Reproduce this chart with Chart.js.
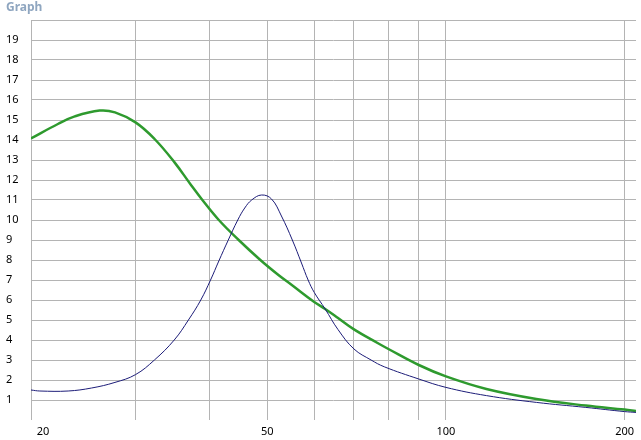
<!DOCTYPE html>
<html>
<head>
<meta charset="utf-8">
<script src="https://cdn.jsdelivr.net/npm/chart.js@4"></script>
<style>
  html, body { margin: 0; padding: 0; background: #ffffff; }
  #wrap { width: 641px; height: 440px; position: relative; }
</style>
</head>
<body>
<div id="wrap"><canvas id="graph"></canvas></div>
<script>
// x ticks (gridlines) and which of them get a label
const xTicks = [20, 30, 40, 50, 60, 70, 80, 90, 100, 200];
const xLabelled = [20, 50, 100, 200];
const xMin = 20;
const xMax = 209;

// green curve
const greenFreq = [20, 22.2, 23.7, 26.1, 27.7, 30, 32.3, 34.9, 37.2, 38.88, 41.44, 44.76, 48.68, 52.22, 55, 60, 62.6, 65.8, 70, 76.7, 80, 90, 100, 117, 142, 172, 200, 209];
const greenVal  = [14.08, 14.8, 15.18, 15.47, 15.38, 14.88, 14.05, 12.88, 11.75, 11.0, 10.0, 9.0, 8.0, 7.25, 6.75, 5.9, 5.55, 5.1, 4.53, 3.85, 3.55, 2.75, 2.18, 1.55, 1.05, 0.72, 0.52, 0.45];

// blue curve
const blueFreq = [20, 20.7, 23.1, 25.3, 27.7, 30, 32.28, 34.86, 36.83, 38.64, 40.13, 41.44, 42.96, 44.6, 45.82, 47.07, 48.91, 50.84, 52.83, 55.11, 57.1, 58.59, 60, 62.6, 65.8, 70, 74.8, 78.74, 90, 100, 117, 142, 172, 200, 209];
const blueVal  = [1.5, 1.45, 1.45, 1.6, 1.88, 2.27, 3.0, 4.0, 5.0, 6.0, 7.0, 7.95, 8.98, 10.0, 10.6, 11.0, 11.25, 11.05, 10.2, 9.0, 7.85, 7.0, 6.38, 5.55, 4.52, 3.55, 3.0, 2.66, 2.05, 1.63, 1.22, 0.88, 0.63, 0.42, 0.38];

function toPoints(xs, ys) {
    return xs.map((x, i) => ({ x: x, y: ys[i] }));
}

const gridColor = '#b4b4b4';
const font = { family: "'Noto Sans', 'Open Sans', sans-serif", size: 11 };

new Chart(document.getElementById('graph'), {
    type: 'line',
    data: {
        datasets: [
            {
                label: 'blue',
                data: toPoints(blueFreq, blueVal),
                borderColor: '#1c1c78',
                borderWidth: 1,
                pointRadius: 0,
                tension: 0.4,
                fill: false
            },
            {
                label: 'green',
                data: toPoints(greenFreq, greenVal),
                borderColor: '#2e9a2e',
                borderWidth: 2.5,
                pointRadius: 0,
                tension: 0.4,
                fill: false
            }
        ]
    },
    options: {
        responsive: true,
        maintainAspectRatio: false,
        animation: false,
        events: [],
        layout: { padding: { left: 6, right: 0, top: 0, bottom: 0 } },
        plugins: {
            legend: { display: false },
            tooltip: { enabled: false },
            title: {
                display: true,
                text: 'Graph',
                align: 'start',
                color: '#8fa6c0',
                font: { family: "'Noto Sans', 'Open Sans', sans-serif", size: 12, weight: 'bold', lineHeight: 1 },
                padding: { top: 2, bottom: 6 }
            }
        },
        scales: {
            x: {
                type: 'logarithmic',
                min: xMin,
                max: xMax,
                border: { display: false },
                afterBuildTicks: (scale) => {
                    scale.ticks = xTicks.concat([xMax]).map(v => ({ value: v }));
                },
                afterFit: (scale) => { scale.height = 20; },
                grid: {
                    drawTicks: false,
                    color: (ctx) => (ctx.tick && ctx.tick.value === xMax) ? 'rgba(0,0,0,0)' : gridColor
                },
                ticks: {
                    align: 'inner',
                    maxRotation: 0,
                    autoSkip: false,
                    padding: 5,
                    color: '#000000',
                    font: font,
                    callback: (value) => {
                        if (!xLabelled.includes(value)) return '';
                        return value === xMin ? '  ' + value : String(value);
                    }
                }
            },
            y: {
                min: 0,
                max: 20,
                border: { display: false },
                afterFit: (scale) => { scale.width = 25; },
                grid: {
                    drawTicks: false,
                    color: (ctx) => (ctx.tick && ctx.tick.value === 0) ? 'rgba(0,0,0,0)' : gridColor
                },
                ticks: {
                    stepSize: 1,
                    crossAlign: 'far',
                    color: '#000000',
                    font: font,
                    callback: (value) => (value === 0 || value === 20) ? '' : String(value)
                }
            }
        }
    }
});
</script>
</body>
</html>
